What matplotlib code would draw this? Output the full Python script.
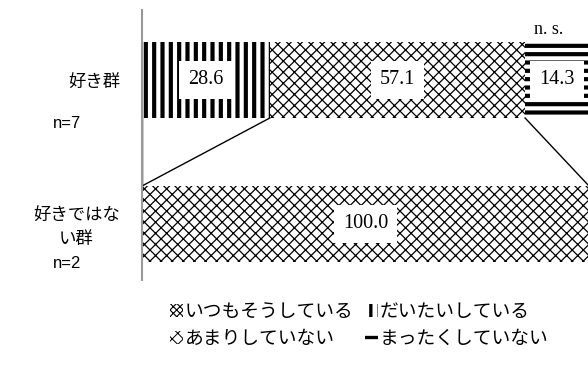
import matplotlib
matplotlib.use('Agg')
import matplotlib.pyplot as plt
import numpy as np
from matplotlib.patches import Patch

plt.rcParams['font.family'] = ['Noto Sans CJK JP', 'DejaVu Sans']

groups = ['好き群', '好きではな\nい群']
counts = ['n=7', 'n=2']
series = ['いつもそうしている', 'だいたいしている', 'あまりしていない', 'まったくしていない']
values = np.array([
    [0.0, 28.6, 57.1, 14.3],
    [0.0, 0.0, 100.0, 0.0],
])
hatches = ['xxxxx', '||', 'xxx', '--']
hatch_lw = [1.0, 3.0, 0.9, 3.0]

fig = plt.figure(figsize=(5.88, 3.70), dpi=100)
ax = fig.add_axes([142 / 588, 1 - 280 / 370, 447 / 588, 270 / 370])

ypos = np.array([1.0, 0.0])
h = 76 / 144
left = np.zeros(len(groups))
for j, name in enumerate(series):
    bars = ax.barh(ypos, values[:, j], left=left, height=h, color='white',
                   edgecolor='black', linewidth=0, hatch=hatches[j])
    for b in bars:
        try:
            b.set_hatch_linewidth(hatch_lw[j])
        except AttributeError:
            pass
    for i, v in enumerate(values[:, j]):
        if v > 0:
            ax.text(left[i] + v / 2, ypos[i], f'{v:.1f}', ha='center', va='center',
                    fontsize=14.5, family='Liberation Serif',
                    bbox=dict(boxstyle='square,pad=0.45', fc='white', ec='none'))
    left = left + values[:, j]

# series lines between the two bars
cum = np.cumsum(values, axis=1)
for j in range(len(series) - 1):
    ax.plot([cum[0, j], cum[1, j]], [ypos[0] - h / 2, ypos[1] + h / 2],
            color='black', lw=1.0, clip_on=False)

ax.text(91, 1.0 + 50 / 144, 'n. s.', ha='center', va='center',
        fontsize=13, family='Liberation Serif')

ax.set_xlim(0, 100)
ax.set_ylim(-56 / 144, 1 + 70 / 144)
ax.set_xticks([])
ax.set_yticks([])
for s in ['top', 'right', 'bottom']:
    ax.spines[s].set_visible(False)
ax.spines['left'].set_color('#999999')
ax.spines['left'].set_linewidth(1.5)

# category labels and sample sizes
num_font = ['Liberation Sans Narrow', 'Liberation Sans']
fig.text(120 / 588, 1 - 82 / 370, groups[0], ha='right', va='center', fontsize=12.5)
fig.text(67 / 588, 1 - 124 / 370, counts[0], ha='center', va='center',
         fontsize=12, family=num_font)
fig.text(120 / 588, 1 - 227 / 370, groups[1], ha='right', va='center',
         multialignment='center', fontsize=12.5, linespacing=1.45)
fig.text(67 / 588, 1 - 264 / 370, counts[1], ha='center', va='center',
         fontsize=12, family=num_font)

handles = [Patch(facecolor='white', edgecolor='black', linewidth=0,
                 hatch=hatches[j], label=name) for j, name in enumerate(series)]
order = [0, 2, 1, 3]
leg = fig.legend(handles=[handles[k] for k in order], loc='center',
                 bbox_to_anchor=(359 / 588, 1 - 325 / 370),
                 ncol=2, frameon=False, fontsize=13.5, handlelength=0.7, handleheight=0.7,
                 handletextpad=0.1, columnspacing=0.6, labelspacing=0.3)
for p, k in zip(leg.get_patches(), order):
    try:
        p.set_hatch_linewidth(hatch_lw[k] * 0.8)
    except AttributeError:
        pass

fig.savefig('out.png', dpi=100)
